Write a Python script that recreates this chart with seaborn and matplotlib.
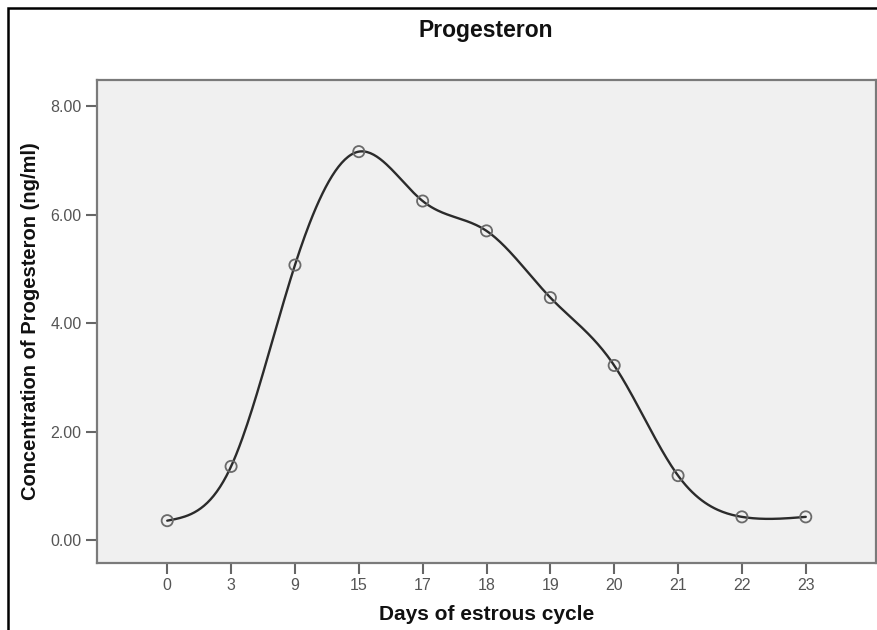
import numpy as np
import pandas as pd
import seaborn as sns
import matplotlib.pyplot as plt
from matplotlib.patches import Rectangle

sns.set_theme(style='white')
plt.rcParams['font.family'] = ['Liberation Sans', 'DejaVu Sans']

# data
days = ['0', '3', '9', '15', '17', '18', '19', '20', '21', '22', '23']
progesteron = [0.36, 1.36, 5.07, 7.16, 6.25, 5.70, 4.47, 3.22, 1.19, 0.43, 0.43]
y_ticks = [0, 2, 4, 6, 8]

df = pd.DataFrame({'day': days, 'conc': progesteron})
df['pos'] = np.arange(len(df))


def natural_spline(x, y, n=400):
    # natural cubic spline for the smooth line (SPSS style interpolation)
    x = np.asarray(x, float)
    y = np.asarray(y, float)
    k = len(x)
    h = np.diff(x)
    A = np.zeros((k, k))
    b = np.zeros(k)
    A[0, 0] = A[-1, -1] = 1
    for i in range(1, k - 1):
        A[i, i - 1] = h[i - 1]
        A[i, i] = 2 * (h[i - 1] + h[i])
        A[i, i + 1] = h[i]
        b[i] = 3 * ((y[i + 1] - y[i]) / h[i] - (y[i] - y[i - 1]) / h[i - 1])
    c = np.linalg.solve(A, b)
    xs = np.linspace(x[0], x[-1], n)
    idx = np.clip(np.searchsorted(x, xs) - 1, 0, k - 2)
    dx = xs - x[idx]
    hi = h[idx]
    bb = (y[idx + 1] - y[idx]) / hi - hi * (2 * c[idx] + c[idx + 1]) / 3
    dd = (c[idx + 1] - c[idx]) / (3 * hi)
    ys = y[idx] + bb * dx + c[idx] * dx ** 2 + dd * dx ** 3
    return xs, ys


xs, ys = natural_spline(df['pos'], df['conc'])
curve = pd.DataFrame({'pos': xs, 'conc': ys})

fig = plt.figure(figsize=(8.77, 6.3), dpi=100)
ax = fig.add_axes([97 / 877, 1 - 563 / 630, 779 / 877, 483 / 630])
ax.set_facecolor('#f0f0f0')

sns.lineplot(data=curve, x='pos', y='conc', ax=ax, color='#2b2b2b',
             linewidth=1.7, sort=False, estimator=None)
sns.scatterplot(data=df, x='pos', y='conc', ax=ax, marker='o', s=65,
                facecolor='none', edgecolor='#6a6a6a', linewidth=1.3, zorder=3)

ax.set_xlim(-1.1, 11.1)
ax.set_ylim(-0.42, 8.48)
ax.set_xticks(df['pos'])
ax.set_xticklabels(days)
ax.set_yticks(y_ticks)
ax.set_yticklabels([f'{v:.2f}' for v in y_ticks])
ax.tick_params(axis='both', direction='out', length=8, width=1.5,
               color='#666666', labelcolor='#555555', labelsize=11.5,
               bottom=True, left=True, pad=3)
for s in ax.spines.values():
    s.set_color('#7a7a7a')
    s.set_linewidth(1.6)

ax.set_xlabel('Days of estrous cycle', fontsize=15, fontweight='bold',
              color='#111111')
ax.set_ylabel('Concentration of Progesteron (ng/ml)', fontsize=14.5,
              fontweight='bold', color='#111111')
ax.xaxis.set_label_coords(0.5, 1 - (615 - 80) / 483, transform=ax.transAxes)
ax.yaxis.set_label_coords((30 - 97) / 779, 0.5, transform=ax.transAxes)
ax.xaxis.label.set_va('center')
ax.yaxis.label.set_va('center')

fig.text(486 / 877, 1 - 30 / 630, 'Progesteron', ha='center', va='center',
         fontsize=16.5, fontweight='bold', color='#111111')

# outer frame of the chart
fig.patches.append(Rectangle((8 / 877, -0.1), 1.2, 1 - 8 / 630 + 0.1,
                             transform=fig.transFigure, fill=False,
                             edgecolor='black', linewidth=1.8))

fig.savefig('out.png', dpi=100)
